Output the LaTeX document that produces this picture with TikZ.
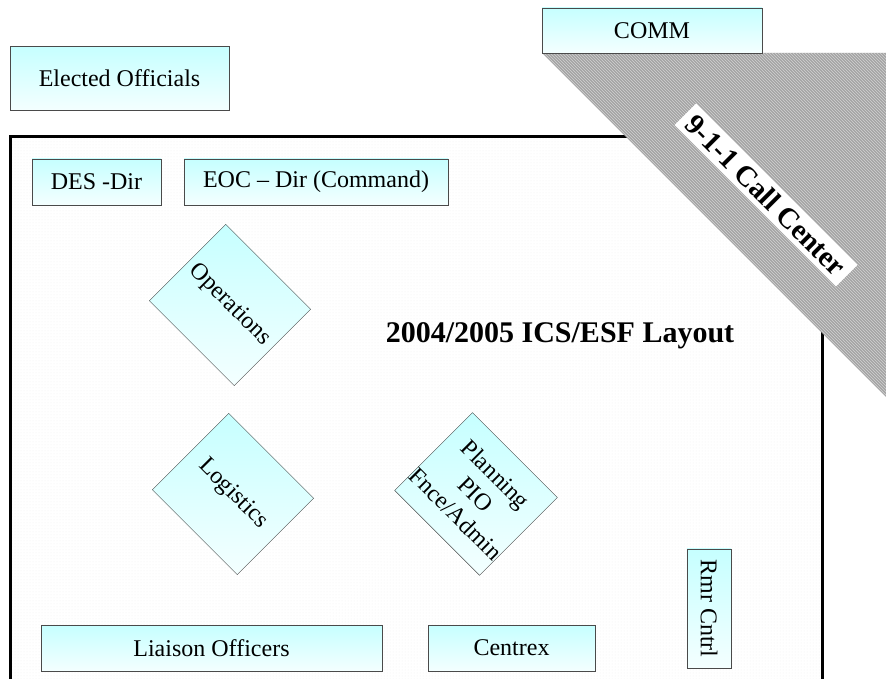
\documentclass[tikz,border=0pt]{standalone}
\usepackage{fontspec}
\setmainfont{Liberation Serif}
\usetikzlibrary{patterns,backgrounds}
\definecolor{aqua}{HTML}{C6FFFF}
\definecolor{pale}{HTML}{F4FFFF}
\definecolor{edge}{HTML}{4A4A4A}
\definecolor{hatch}{HTML}{A4A4A4}

\begin{document}
\begin{tikzpicture}[x=1pt, y=-1pt,
		post/.style={draw=edge, top color=aqua, bottom color=pale, inner sep=0pt, font=\fontsize{24}{28}\selectfont},
		turned/.style={draw=edge, inner sep=0pt, font=\fontsize{24}{28}\selectfont, align=center},
		desk/.style={turned, rotate=-45, minimum width=120pt, minimum height=108pt}]
			\useasboundingbox (0,0) rectangle (886,679);
			\clip (0,0) rectangle (886,679);

			% room
			\begin{scope}[on background layer]
			\draw[line width=3pt, pattern=dots, pattern color=gray!14] (10,137) rectangle (822,720);
			\end{scope}

			% call center wedge
			\fill[hatch] (542,53) -- (900,53) -- (900,411) -- cycle;
			\fill[pattern=north west lines, pattern color=gray!35] (542,53) -- (900,53) -- (900,411) -- cycle;
			\node[fill=white, rotate=-45, inner xsep=7pt, inner ysep=5pt, font=\fontsize{29}{31}\selectfont\bfseries] (call) at (766,195) {9-1-1 Call Center};

			\node[post, minimum width=220pt, minimum height=45pt] (comm) at (652,30.5) {COMM};
			\node[post, minimum width=219pt, minimum height=64pt] (elected) at (119.5,78.5) {Elected Officials};

			\node[post, minimum width=129pt, minimum height=46pt] (des) at (96.5,182) {DES -Dir};
			\node[post, minimum width=264pt, minimum height=46pt] (eoc) at (316,182) {EOC – Dir (Command)};

			\node[desk] (ops) at (230,305) {Operations};
			\node[desk] (log) at (233,494) {Logistics};
			\node[desk, minimum height=110pt] (plan) at (476,494) {Planning\\PIO\\Fnce/Admin};

			\node[font=\fontsize{30}{32}\selectfont\bfseries] (title) at (560,336) {2004/2005 ICS/ESF Layout};

			\node[post, minimum width=341pt, minimum height=46pt] (liaison) at (211.5,648) {Liaison Officers};
			\node[post, minimum width=167pt, minimum height=46pt] (centrex) at (511.5,648) {Centrex};
			\node[turned, rotate=-90, minimum width=119pt, minimum height=44pt] (rmr) at (709,608.5) {Rmr Cntrl};

			% page-upright shading behind the turned boxes
			\begin{scope}[on background layer]
			\foreach \n in {ops,log,plan,rmr}
				\shade[top color=aqua, bottom color=pale] (\n.north west) -- (\n.north east) -- (\n.south east) -- (\n.south west) -- cycle;
			\end{scope}
		\end{tikzpicture}
\end{document}
